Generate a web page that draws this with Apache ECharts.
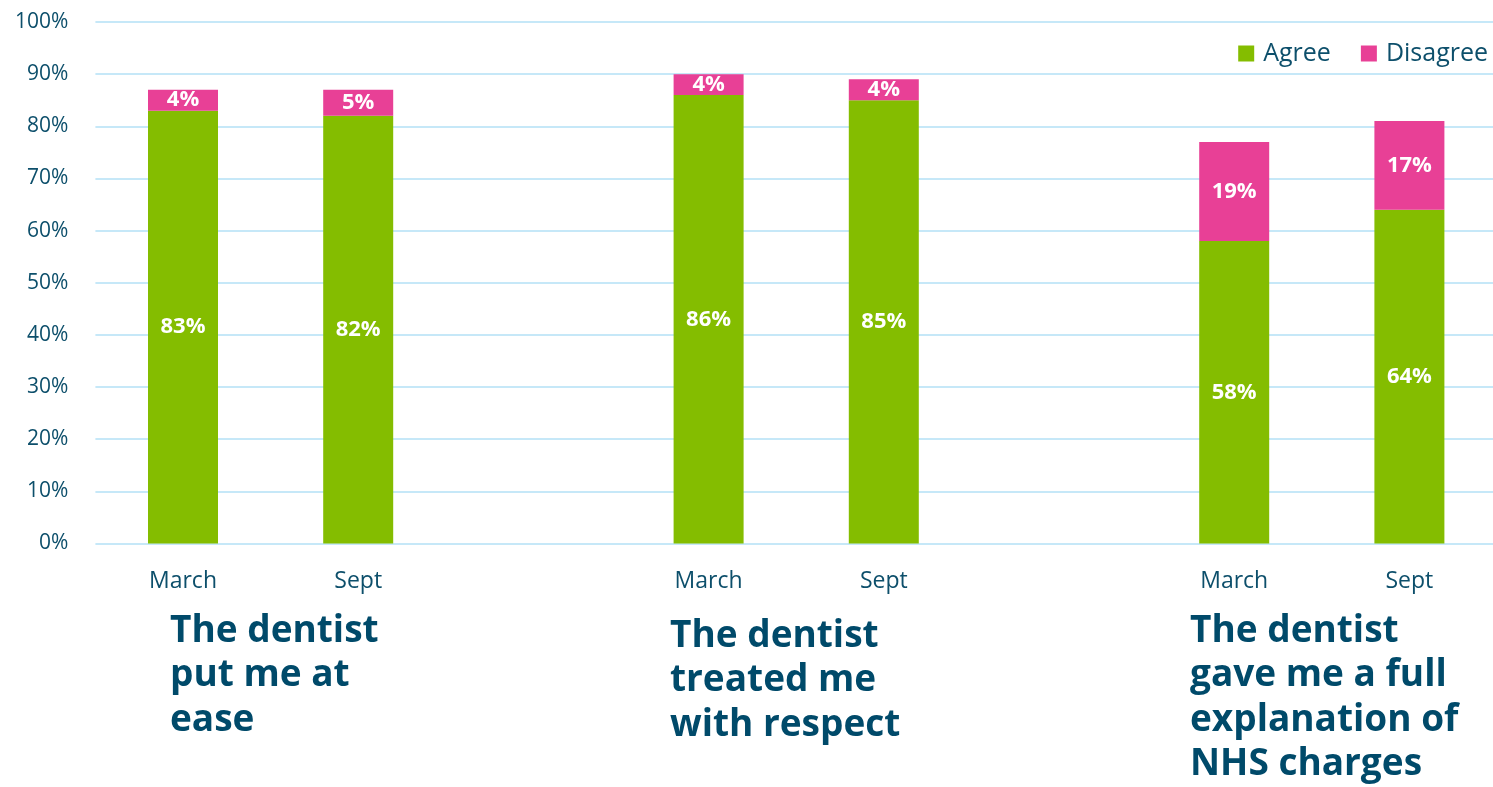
<!DOCTYPE html>
<html>
<head>
<meta charset="utf-8">
<script src="https://cdn.jsdelivr.net/npm/echarts@6/dist/echarts.min.js"></script>
<style>
  html, body { margin: 0; padding: 0; background: #fff; }
  #main { width: 1493px; height: 787px; }
</style>
</head>
<body>
<div id="main"></div>
<script>
// empty slots keep the gap between the three questions
const categories = ['March', 'Sept', '', 'March', 'Sept', '', 'March', 'Sept']
const agree = [83, 82, null, 86, 85, null, 58, 64]
const disagree = [4, 5, null, 4, 4, null, 19, 17]
const questions = [
  'The dentist\nput me at\nease',
  'The dentist\ntreated me\nwith respect',
  'The dentist\ngave me a full\nexplanation of\nNHS charges'
]

const font = '"Open Sans", "Noto Sans", sans-serif'
const textColor = '#0d4f6b'
const titleColor = '#004a6a'

var chartDom = document.getElementById('main')
var myChart = echarts.init(chartDom)
var option

const labelStyle = {
  show: true,
  position: 'inside',
  color: '#fff',
  fontFamily: font,
  fontWeight: 'bold',
  fontSize: 22,
  formatter: (p) => p.value + '%'
}

option = {
  animation: false,
  grid: {
    left: 95.4,
    width: 1401.6,
    top: 22,
    bottom: 243.5,
    outerBoundsMode: 'none',
    containLabel: false
  },
  legend: {
    top: 36,
    right: 0,
    itemWidth: 16,
    itemHeight: 16,
    itemGap: 30,
    icon: 'rect',
    textStyle: { color: textColor, fontFamily: font, fontSize: 25, padding: [0, 0, 0, 4] },
    data: ['Agree', 'Disagree']
  },
  xAxis: {
    type: 'category',
    data: categories,
    axisLine: { show: false },
    axisTick: { show: false },
    axisLabel: {
      color: textColor,
      fontFamily: font,
      fontSize: 23,
      margin: 26,
      interval: 0
    }
  },
  yAxis: {
    type: 'value',
    min: 0,
    max: 100,
    interval: 10,
    axisLine: { show: false },
    axisTick: { show: false },
    axisLabel: {
      color: textColor,
      fontFamily: font,
      fontSize: 21,
      margin: 27,
      formatter: '{value}%'
    },
    splitLine: { lineStyle: { color: '#c6e8f8', width: 2 } }
  },
  series: [
    {
      name: 'Agree',
      type: 'bar',
      stack: 'total',
      barWidth: 70,
      itemStyle: { color: '#84bd00' },
      label: labelStyle,
      data: agree
    },
    {
      name: 'Disagree',
      type: 'bar',
      stack: 'total',
      barWidth: 70,
      itemStyle: { color: '#e84096' },
      label: labelStyle,
      data: disagree
    }
  ],
  graphic: [
    { x: 170, y: 609 },
    { x: 670, y: 614 },
    { x: 1190, y: 609 }
  ].map((pos, i) => ({
    type: 'text',
    x: pos.x,
    y: pos.y,
    style: {
      text: questions[i],
      fill: titleColor,
      font: 'bold 37px ' + font,
      lineHeight: 44.5,
      verticalAlign: 'top'
    }
  }))
}

option && myChart.setOption(option)
</script>
</body>
</html>
